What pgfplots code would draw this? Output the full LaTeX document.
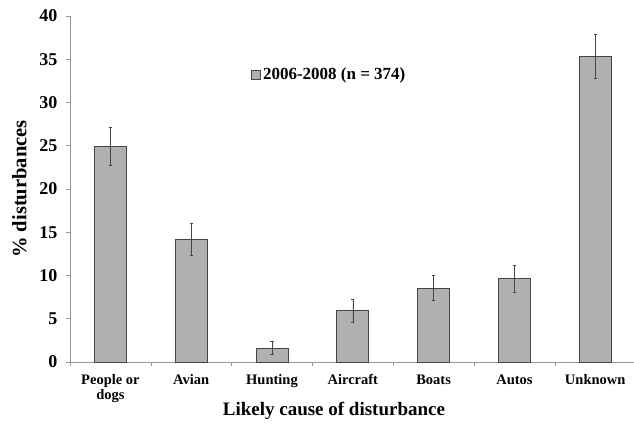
\documentclass[border=0pt]{standalone}
\usepackage{pgfplots}
\pgfplotsset{compat=1.18}
\usepackage{fontspec}
\setmainfont{Liberation Serif}
\definecolor{barfill}{RGB}{176,176,176}
\definecolor{baredge}{RGB}{70,70,70}
\definecolor{axisgray}{RGB}{150,150,150}
\begin{document}
\begin{tikzpicture}
\begin{axis}[
  scale only axis,
  width=564bp, height=346bp,
  xmin=-0.5, xmax=6.48,
  ymin=0, ymax=40,
  ytick={0,5,...,40},
  xtick={0,1,2,3,4,5,6},
  xticklabels={{People or\\dogs},Avian,Hunting,Aircraft,Boats,Autos,Unknown},
  minor xtick={-0.5,0.5,1.5,2.5,3.5,4.5,5.5},
  major x tick style={draw=none},
  tick align=outside,
  major tick length=4bp,
  minor tick length=4bp,
  tick style={axisgray, line width=0.6pt},
  axis x line*=bottom,
  axis y line*=left,
  axis line style={axisgray, line width=0.8pt, -},
  /pgf/number format/assume math mode=true,
  yticklabel style={font=\fontsize{18bp}{20bp}\selectfont\bfseries, xshift=-5bp},
  xticklabel style={font=\fontsize{14.5bp}{15bp}\selectfont\bfseries, align=center, yshift=-5bp},
  ylabel={\% disturbances},
  ylabel style={font=\fontsize{20.5bp}{22bp}\selectfont\bfseries, yshift=6bp},
  xlabel={Likely cause of disturbance},
  xlabel style={font=\fontsize{19bp}{21bp}\selectfont\bfseries, at={(axis description cs:0.468,0)}, anchor=north, yshift=-37bp},
  legend style={draw=none, fill=none, at={(0.316,0.83)}, anchor=west,
    font=\fontsize{17bp}{19bp}\selectfont\bfseries},
  legend image code/.code={\draw[fill=barfill, draw=baredge, line width=0.6pt] (0bp,-4.5bp) rectangle (9bp,4.5bp);},
  clip=false,
]
\addplot[ybar, bar width=32bp, fill=barfill, draw=baredge, line width=1pt,
  error bars/.cd, y dir=both, y explicit,
  error bar style={color=baredge, line width=0.6pt},
  error mark options={rotate=90, mark size=1.6bp, line width=0.6pt, color=baredge}]
coordinates {
  (0,24.9) +- (0,2.2)
  (1,14.2) +- (0,1.85)
  (2,1.6) +- (0,0.75)
  (3,5.9) +- (0,1.3)
  (4,8.55) +- (0,1.45)
  (5,9.6) +- (0,1.55)
  (6,35.3) +- (0,2.55)
};
\addlegendentry{2006-2008 (n = 374)}
\end{axis}
\pgfresetboundingbox
\path ([xshift=-70bp,yshift=-62bp]current axis.south west) rectangle ([xshift=0bp,yshift=16bp]current axis.north east);
\end{tikzpicture}
\end{document}
